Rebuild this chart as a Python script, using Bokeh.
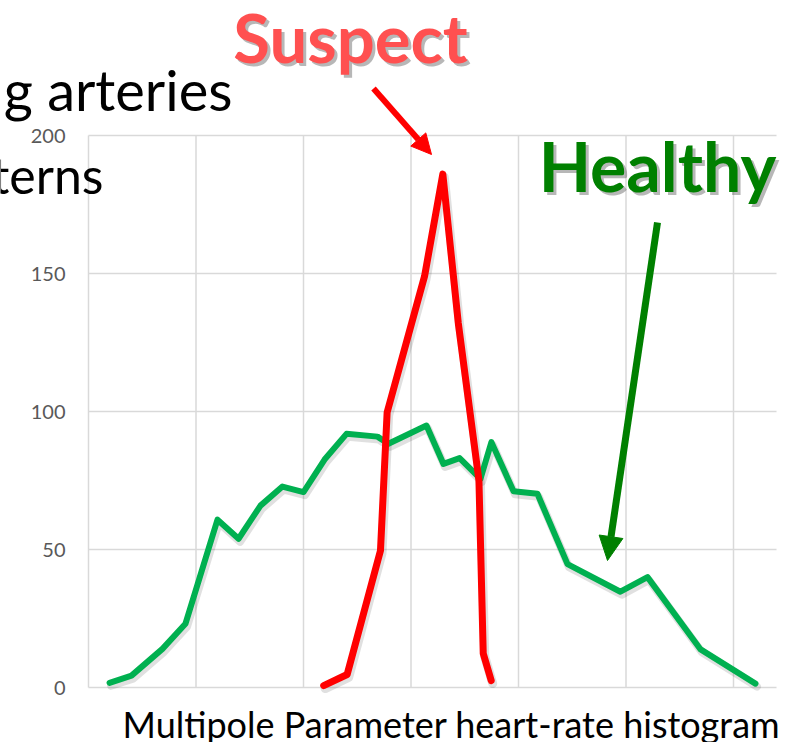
from bokeh.plotting import figure
from bokeh.models import Range1d, Arrow, NormalHead
from bokeh.core.properties import value
from bokeh.embed import file_html
from bokeh.resources import INLINE

# ---- data ----
healthy_x = [0.98, 2.0, 3.44, 4.51, 6.0, 6.98, 8.0, 9.02, 10.0, 10.98, 12.0, 13.44, 13.95,
             15.72, 16.51, 17.26, 18.23, 18.74, 19.77, 20.88, 22.28, 24.74, 26.0, 28.47, 31.02]
healthy_y = [1.7, 4.3, 14.0, 23.1, 60.8, 53.9, 65.9, 72.8, 70.8, 82.6, 91.9, 90.9, 88.3,
             94.9, 81.0, 83.1, 75.6, 88.9, 71.1, 70.2, 44.7, 34.7, 40.0, 13.8, 1.4]

suspect_x = [10.94, 12.03, 13.58, 13.89, 15.63, 16.48, 17.2, 18.16, 18.36, 18.73]
suspect_y = [0.7, 4.7, 49.6, 99.7, 149.0, 186.0, 132.0, 75.0, 12.3, 2.5]

y_ticks = [0, 50, 100, 150, 200]
y_tick_labels = ["0", "50", "100", "150", "200"]
x_grid = [0, 5, 10, 15, 20, 25, 30]
X_MAX = 32

GREEN = "#00B050"
RED = "#FF0000"
DKGREEN = "#008000"

# canvas geometry: the plotting area (0..32 x 0..200) sits at pixels 88..776 x 135..687
W, H = 784, 742
PX_L, PX_R, PX_T, PX_B = 88, 776, 135, 687
sx = (PX_R - PX_L) / X_MAX
sy = (PX_B - PX_T) / 200.0
x0 = -PX_L / sx
x1 = x0 + W / sx
y1 = 200 + PX_T / sy
y0 = y1 - H / sy

def dx(px):
    return x0 + px / sx

def dy(py):
    return y1 - py / sy

p = figure(width=W, height=H, output_backend="svg", toolbar_location=None,
           x_range=Range1d(x0, x1), y_range=Range1d(y0, y1),
           min_border=0, min_border_left=0, min_border_right=0,
           min_border_top=0, min_border_bottom=0)
p.outline_line_color = None
p.axis.visible = False
p.grid.visible = False
p.background_fill_color = "white"
p.border_fill_color = "white"

# gridlines
p.segment(x0=x_grid, y0=[0] * len(x_grid), x1=x_grid, y1=[200] * len(x_grid),
          line_color="#D9D9D9", line_width=1.5)
p.segment(x0=[0] * len(y_ticks), y0=y_ticks, x1=[X_MAX] * len(y_ticks), y1=y_ticks,
          line_color="#D9D9D9", line_width=1.5)

# y tick labels
p.text(x=[0] * len(y_ticks), y=y_ticks, text=y_tick_labels, x_offset=-23,
       text_align="right", text_baseline="middle", text_font=value("Lato"),
       text_font_size="20px", text_color="#595959")

# soft shadows of the lines
sdx, sdy = 1.5 / sx, 3.0 / sy
p.line([v + sdx for v in healthy_x], [v - sdy for v in healthy_y], line_color="black",
       line_alpha=0.12, line_width=8, line_join="round", line_cap="round")
p.line([v + sdx for v in suspect_x], [v - sdy for v in suspect_y], line_color="black",
       line_alpha=0.12, line_width=9, line_join="round", line_cap="round")

p.line(healthy_x, healthy_y, line_color=GREEN, line_width=6, line_join="round", line_cap="round")
p.line(suspect_x, suspect_y, line_color=RED, line_width=7, line_join="round", line_cap="round")

# ---- texts ----
BASE_CORR = 0.38  # measured shift of the rendered baseline, in em

def lab(px, py, text, size, color, align="left", bold=False, shadow=False):
    style = "bold" if bold else "normal"
    py = py - BASE_CORR * size
    fs = "%dpx" % size
    if shadow:
        p.text(x=[dx(px + 3)], y=[dy(py + 3)], text=[text], text_font=value("Lato"),
               text_font_size=fs, text_font_style=style, text_color="#606060",
               text_alpha=0.45, text_align=align, text_baseline="alphabetic")
    p.text(x=[dx(px)], y=[dy(py)], text=[text], text_font=value("Lato"),
           text_font_size=fs, text_font_style=style, text_color=color,
           text_align=align, text_baseline="alphabetic")

lab(232, 110, "g arteries", 56, "black", align="right")
lab(103, 193, "terns", 50, "black", align="right")
lab(350, 62, "Suspect", 67, "#FF5050", align="center", bold=True, shadow=True)
lab(657, 191, "Healthy", 68, DKGREEN, align="center", bold=True, shadow=True)
lab(451, 737, "Multipole Parameter heart-rate histogram", 36, "black", align="center")

# ---- arrows ----
p.add_layout(Arrow(end=NormalHead(size=20, fill_color=RED, line_color=RED),
                   x_start=dx(373), y_start=dy(88), x_end=dx(431), y_end=dy(154),
                   line_color=RED, line_width=6))
p.add_layout(Arrow(end=NormalHead(size=24, fill_color=DKGREEN, line_color=DKGREEN),
                   x_start=dx(657), y_start=dy(222), x_end=dx(607), y_end=dy(560),
                   line_color=DKGREEN, line_width=7))

open("out.html", "w").write(file_html(p, INLINE))
